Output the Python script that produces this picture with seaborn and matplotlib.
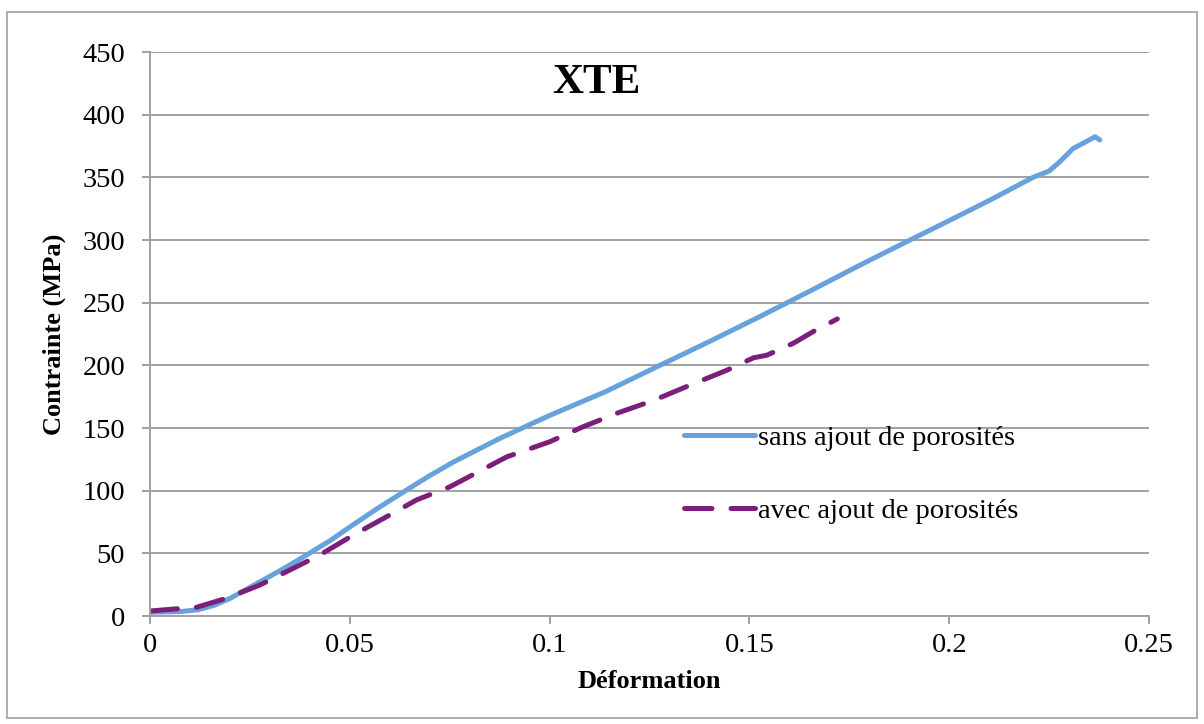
import matplotlib
matplotlib.use("Agg")
import matplotlib.pyplot as plt
import seaborn as sns
import pandas as pd
from matplotlib.patches import Rectangle

# ---------------------------------------------------------
# DATA
# ---------------------------------------------------------
sans_x = [0.0, 0.0075, 0.0120, 0.0160, 0.020, 0.0268, 0.0330, 0.0392, 0.0450,
          0.0500, 0.0570, 0.0642, 0.0700, 0.0760, 0.0876, 0.1000, 0.1140,
          0.1276, 0.1400, 0.1530, 0.1650, 0.1777, 0.1877, 0.2000, 0.2100,
          0.2210, 0.2250, 0.2277, 0.2310, 0.2340, 0.2365, 0.2377]
sans_y = [3, 3.5, 5, 8.5, 14, 26, 37, 48.7, 60,
          71, 86, 100.5, 112, 123, 141.8, 160, 179,
          200, 219, 239.5, 259, 280, 296, 315.5, 331.5,
          350, 355, 362.5, 373, 378, 382.4, 379.8]

avec_x = [0.0, 0.0117, 0.0190, 0.0275, 0.0350, 0.0425, 0.0509, 0.0592,
          0.0667, 0.0750, 0.0843, 0.0893, 0.1000, 0.1084, 0.1168, 0.1260,
          0.1350, 0.1443, 0.1510, 0.1543, 0.1610, 0.1660, 0.1720]
avec_y = [4, 7, 14, 24.7, 36.7, 48.7, 64.6, 79.2,
          92.6, 103, 118.6, 127, 139, 151, 161.7, 172,
          184, 196, 206, 208, 217.6, 227, 237]

labels = ["sans ajout de porosités", "avec ajout de porosités"]
x_ticks = [0, 0.05, 0.1, 0.15, 0.2, 0.25]
x_tick_labels = ["0", "0.05", "0.1", "0.15", "0.2", "0.25"]
y_ticks = [0, 50, 100, 150, 200, 250, 300, 350, 400, 450]

df_sans = pd.DataFrame({"x": sans_x, "y": sans_y})
df_avec = pd.DataFrame({"x": avec_x, "y": avec_y})

# ---------------------------------------------------------
# STYLE
# ---------------------------------------------------------
sns.set_theme(style="white")
plt.rcParams['font.family'] = ['Liberation Serif', 'DejaVu Serif']
plt.rcParams['text.color'] = 'black'
plt.rcParams['axes.labelcolor'] = 'black'

grey = "#a0a0a0"
blue = "#67a2dd"
purple = "#7b1f7b"

fig = plt.figure(figsize=(12.04, 7.24), dpi=100)
ax = fig.add_axes([150 / 1204, 1 - 616 / 724, 999 / 1204, 564 / 724])

# outer chart frame
fig.patches.append(Rectangle((7 / 1204, 1 - 718 / 724), 1190 / 1204, 706 / 724,
                             transform=fig.transFigure, fill=False,
                             edgecolor=grey, linewidth=1.2))

# ---------------------------------------------------------
# PLOT
# ---------------------------------------------------------
sns.lineplot(data=df_sans, x="x", y="y", sort=False, ax=ax, color=blue,
             linewidth=3.6, label=labels[0], solid_capstyle="round")
sns.lineplot(data=df_avec, x="x", y="y", sort=False, ax=ax, color=purple,
             linewidth=3.6, label=labels[1], dashes=False)
ax.lines[1].set_dashes([5.5, 3.8])
ax.lines[1].set_dash_capstyle("round")

ax.set_xlim(0, 0.25)
ax.set_ylim(0, 450)
ax.set_xticks(x_ticks)
ax.set_xticklabels(x_tick_labels)
ax.set_yticks(y_ticks)

ax.grid(axis="y", color=grey, linewidth=1.4)
ax.grid(axis="x", visible=False)
ax.set_axisbelow(True)

for s in ["top", "right"]:
    ax.spines[s].set_visible(False)
for s in ["left", "bottom"]:
    ax.spines[s].set_color(grey)
    ax.spines[s].set_linewidth(1.4)

ax.tick_params(axis="both", which="major", direction="out", length=6,
               width=1.4, color=grey, labelsize=20.5, labelcolor="black")
ax.tick_params(axis="y", pad=12)
ax.tick_params(axis="x", pad=6)
ax.tick_params(left=True, bottom=True)

ax.set_xlabel("Déformation", fontsize=19, fontweight="bold", labelpad=9)
ax.set_ylabel("Contrainte (MPa)", fontsize=19, fontweight="bold", labelpad=12)

ax.text(0.447, 0.945, "XTE", transform=ax.transAxes, fontsize=31,
        fontweight="bold", ha="center", va="center")

leg = ax.legend(loc="upper left", bbox_to_anchor=(684 / 1204, 1 - 425 / 724),
                bbox_transform=fig.transFigure, frameon=False, fontsize=20.5,
                handlelength=2.5, handletextpad=0.1, labelspacing=1.65,
                borderpad=0, borderaxespad=0)
for t in leg.get_texts():
    t.set_color("black")

fig.savefig("out.png", dpi=100)
